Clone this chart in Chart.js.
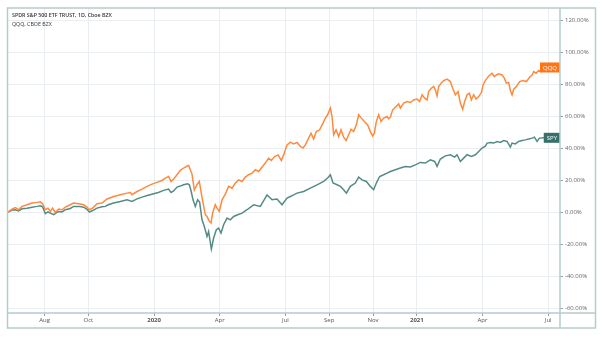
<!DOCTYPE html>
<html>
<head>
<meta charset="utf-8">
<script src="https://cdn.jsdelivr.net/npm/chart.js@4.4.1/dist/chart.umd.min.js"></script>
<style>
html,body{margin:0;padding:0;background:#fff;}
canvas{display:block;}
</style>
</head>
<body>
<canvas id="c" width="606" height="338"></canvas>
<script>
// x values: months since July 2019 (Aug 2019 = 1, Jan 2020 = 6, Jul 2021 = 24)
const xTickPos = [1, 3, 6, 9, 12, 14, 16, 18, 21, 24];
const xTickLabels = ['Aug', 'Oct', '2020', 'Apr', 'Jul', 'Sep', 'Nov', '2021', 'Apr', 'Jul'];
const yTickValues = [-60, -40, -20, 0, 20, 40, 60, 80, 100, 120];

const titleLine1 = 'SPDR S&P 500 ETF TRUST, 1D, Cboe BZX';
const titleLine2 = 'QQQ, CBOE BZX';
const seriesNames = ['QQQ', 'SPY'];

const qqqMonths = [-0.672,-0.489,-0.338,-0.188,-0.032,0.196,0.424,0.653,0.804,0.909,1.032,1.155,1.260,1.365,1.489,1.639,1.795,1.946,2.174,2.325,2.553,2.781,2.937,3.042,3.193,3.394,3.622,3.850,4.152,4.458,4.764,4.915,4.992,5.221,5.449,5.678,5.906,6.134,6.363,6.514,6.664,6.774,6.893,7.048,7.199,7.349,7.532,7.578,7.733,7.838,7.962,8.067,8.158,8.263,8.341,8.418,8.523,8.601,8.674,8.720,8.797,8.875,8.980,9.104,9.254,9.405,9.560,9.711,9.862,10.017,10.168,10.319,10.474,10.625,10.776,10.931,11.082,11.232,11.356,11.506,11.662,11.812,11.918,12.073,12.224,12.374,12.530,12.680,12.804,12.909,13.059,13.169,13.288,13.411,13.562,13.717,13.822,13.927,14.051,14.128,14.202,14.311,14.430,14.540,14.658,14.768,14.887,14.996,15.115,15.239,15.344,15.467,15.604,15.755,15.878,15.983,16.061,16.152,16.257,16.367,16.486,16.641,16.714,16.792,16.897,17.052,17.171,17.248,17.399,17.555,17.705,17.856,18.011,18.130,18.240,18.358,18.468,18.541,18.664,18.770,18.847,18.925,18.998,19.108,19.226,19.382,19.532,19.637,19.761,19.884,19.989,20.094,20.186,20.295,20.400,20.492,20.597,20.706,20.825,20.949,21.026,21.131,21.282,21.437,21.542,21.634,21.739,21.894,21.999,22.090,22.195,22.273,22.351,22.424,22.547,22.698,22.853,23.004,23.155,23.264,23.338,23.447,23.566,23.643,23.826,24.054,24.259];
const qqqValues = [0.25,2.1,3.1,1.7,3.8,4.8,5.9,6.3,6.7,5.4,1.7,2.7,0.6,2.7,0,2.1,1.7,3.3,4.8,5.9,5.4,4.8,3.3,1.7,2.7,5.4,5.9,8.4,10,11.1,12.1,12.5,11.1,13.1,14.6,16.3,17.7,18.8,20,21.5,22.5,19.4,20.9,23.6,26.3,27.8,29.2,29.4,24,14,17.5,19.5,12,4,-1.4,-2.5,-5.6,-6.6,-0.5,1.7,4.8,2.7,0.6,7.9,11.5,16.3,15.2,18.4,20.4,19.4,22.1,23.6,24.6,26.7,25.6,28.4,30.9,34,32.5,35,36,32.5,36,42.3,44,42.9,43.8,41.3,40.3,42.3,46.5,49.6,45.9,50.6,51.7,55.9,59,61.1,65.3,60,48.6,51.7,47.5,51.7,47.1,45,48.6,52.1,50.6,54.8,61.1,59,56.9,54.8,50.6,47.9,49.6,56.9,61.1,56.9,59,60,58.6,59.6,64.2,66.3,67.9,65.3,68.4,69.4,68.8,70.4,70.9,69.4,73.6,71.5,70.4,75.6,77.7,78.8,76.7,72.9,78.8,80.9,82.5,83.4,81.9,77.7,73.6,75.6,68.4,64.6,69.4,73.6,74.6,70.4,73.6,70.9,72.5,75,79.8,82.5,85.4,87.1,85,86,86.7,86,84,80.9,81.3,76.3,73.6,77.1,78.8,81.9,82.5,81.9,84.6,86,88.1,87.1,88.8,88.1,89.6,90.3,90.7];

const spyMonths = [-0.672,-0.489,-0.338,-0.188,-0.032,0.196,0.424,0.653,0.804,0.909,1.032,1.155,1.260,1.411,1.639,1.795,1.946,2.174,2.325,2.553,2.781,2.937,3.042,3.193,3.394,3.622,3.773,3.910,4.152,4.458,4.764,4.992,5.221,5.449,5.691,5.979,6.194,6.436,6.664,6.774,6.893,7.048,7.199,7.349,7.532,7.610,7.678,7.779,7.884,7.989,8.080,8.190,8.295,8.418,8.491,8.615,8.720,8.843,8.948,9.058,9.177,9.332,9.483,9.634,9.816,10.017,10.246,10.547,10.853,11.159,11.388,11.616,11.844,12.073,12.224,12.374,12.530,12.831,13.137,13.443,13.745,13.927,14.051,14.174,14.357,14.508,14.658,14.782,14.964,15.193,15.344,15.499,15.695,15.878,16.029,16.152,16.303,16.486,16.641,16.792,17.020,17.248,17.477,17.705,17.934,18.162,18.390,18.619,18.815,18.925,19.075,19.304,19.532,19.729,19.838,19.989,20.140,20.295,20.492,20.674,20.825,20.980,21.131,21.209,21.359,21.510,21.666,21.816,21.967,22.122,22.273,22.351,22.501,22.652,22.808,22.958,23.109,23.264,23.370,23.493,23.598,23.826,24.054,24.259];
const spyValues = [0,1.5,1.7,1.0,2.3,2.7,3.3,3.8,4.2,3.5,-0.8,0.3,-0.4,-1.4,0.6,0.3,1.7,2.5,3.8,3.8,3.3,2.0,0.2,1.2,2.7,3.5,3.8,4.8,5.9,6.8,7.9,6.9,8.5,9.6,10.6,11.7,12.5,13.8,14.6,12.5,13.5,15.9,16.5,17.3,17.9,17.3,14.2,7.9,3.8,7.9,6.5,-4.6,-8.8,-15,-11.9,-22.9,-16,-10.8,-9.8,-12.9,-7.7,-3.5,-4.6,-2.5,-1.4,-0.4,1.7,4.8,3.8,11,7.9,8.4,4.8,9,10,11,12.1,13.1,15.2,17.3,19.4,21.5,23.6,18.4,17.3,16.3,14.2,12.1,16.3,18.4,22.1,20.4,19.4,16.3,14.2,18.4,22.5,23.6,24.6,25.6,26.7,27.8,28.8,28.4,29.8,31.3,30.9,32.9,31.9,28.8,33.4,35.4,36.1,34.6,36.1,31.9,34,36.1,35,36.1,38.1,40.3,41.5,43.4,43.8,43.4,44.4,43.8,45,44.4,40.9,43.4,42.9,44.4,45,45.4,45.9,46.5,47.1,44.4,46.5,46.7,46.8,46.7];

const FONT = "'Open Sans', 'DejaVu Sans', sans-serif";
const FRAME = '#B6CCCB';
const GRID = '#EBEEF1';
const lineColors = ['#FF8A3D', '#548C85'];
const boxColors = ['#FF7417', '#37706A'];

const framePlugin = {
  id: 'frame',
  afterDatasetsDraw(chart) {
    const ctx = chart.ctx, a = chart.chartArea, y = chart.scales.y;
    ctx.save();
    ctx.font = '6px ' + FONT;
    ctx.textBaseline = 'middle';
    ctx.textAlign = 'center';
    chart.data.datasets.forEach((ds, i) => {
      const last = ds.data[ds.data.length - 1];
      const py = y.getPixelForValue(last.y);
      const w = ctx.measureText(seriesNames[i]).width + 6;
      const h = 10;
      ctx.fillStyle = boxColors[i];
      ctx.fillRect(a.right - w, py - h / 2, w, h);
      ctx.fillStyle = '#fff';
      ctx.fillText(seriesNames[i], a.right - w / 2, py + 0.5);
    });
    ctx.restore();
  },
  afterDraw(chart) {
    const ctx = chart.ctx, a = chart.chartArea;
    ctx.save();
    ctx.strokeStyle = FRAME;
    ctx.lineWidth = 1.5;
    ctx.strokeRect(7.5, 8, 588, 320);
    ctx.beginPath();
    ctx.moveTo(a.right, 8); ctx.lineTo(a.right, 328);
    ctx.moveTo(7.5, a.bottom); ctx.lineTo(595.5, a.bottom);
    ctx.stroke();
    ctx.fillStyle = '#333';
    ctx.textBaseline = 'middle';
    ctx.textAlign = 'left';
    ctx.font = '600 5.3px ' + FONT;
    ctx.fillText(titleLine1, 12, 15.5);
    ctx.font = '5.3px ' + FONT;
    ctx.fillText(titleLine2, 12, 24);
    ctx.restore();
  }
};

new Chart(document.getElementById('c'), {
  type: 'line',
  data: {
    datasets: [
      { label: seriesNames[0], data: qqqMonths.map((m, i) => ({ x: m, y: qqqValues[i] })), borderColor: lineColors[0], borderWidth: 1.5, pointRadius: 0, tension: 0, fill: false },
      { label: seriesNames[1], data: spyMonths.map((m, i) => ({ x: m, y: spyValues[i] })), borderColor: lineColors[1], borderWidth: 1.5, pointRadius: 0, tension: 0, fill: false }
    ]
  },
  options: {
    responsive: false,
    animation: false,
    layout: { padding: { left: 8, top: 8, right: 10, bottom: 10 } },
    plugins: { legend: { display: false }, tooltip: { enabled: false } },
    scales: {
      x: {
        type: 'linear', position: 'bottom', min: -0.672, max: 24.54,
        afterBuildTicks: s => { s.ticks = xTickPos.map(v => ({ value: v })); },
        afterFit: s => { s.height = 15; },
        grid: { color: GRID, tickLength: 3, tickColor: '#8FA3A3', lineWidth: 1 },
        border: { display: false },
        ticks: {
          autoSkip: false, maxRotation: 0, padding: 1, color: '#555',
          font: ctx => ({ family: FONT, size: 6, weight: (ctx.tick && String(xTickLabels[xTickPos.indexOf(ctx.tick.value)]).length === 4) ? 'bold' : 'normal' }),
          callback: v => xTickLabels[xTickPos.indexOf(v)]
        }
      },
      y: {
        type: 'linear', position: 'right', min: -62.9, max: 127.9,
        afterBuildTicks: s => { s.ticks = yTickValues.map(v => ({ value: v })); },
        afterFit: s => { s.width = 36; },
        grid: { color: GRID, tickLength: 3, tickColor: '#8FA3A3', lineWidth: 1 },
        border: { display: false },
        ticks: {
          padding: 2, color: '#666', font: { family: FONT, size: 6 },
          callback: v => v.toFixed(2) + '%'
        }
      }
    }
  },
  plugins: [framePlugin]
});
</script>
</body>
</html>
